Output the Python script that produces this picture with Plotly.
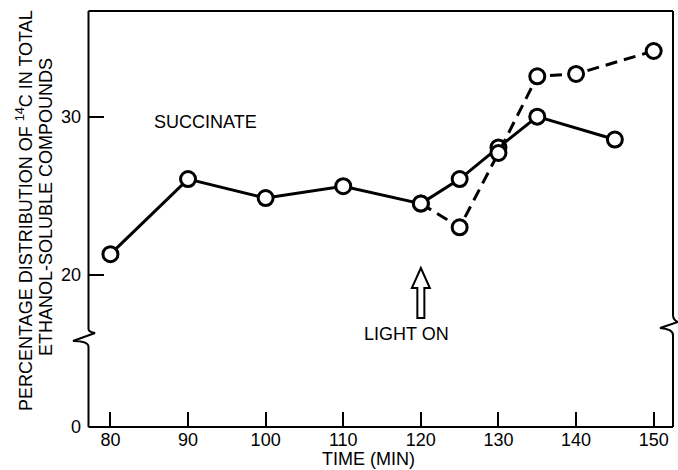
import plotly.graph_objects as go

# ---- data ----
time_solid = [80, 90, 100, 110, 120, 125, 130, 135, 145]
pct_solid = [21.3, 26.05, 24.85, 25.6, 24.5, 26.05, 28.05, 30.0, 28.55]
time_dashed = [120, 125, 130, 135, 140, 150]
pct_dashed = [24.5, 23.0, 27.7, 32.55, 32.7, 34.15]
x_ticks = [80, 90, 100, 110, 120, 130, 140, 150]
y_ticks_upper = [20, 30]
y_ticks_lower = [0]
light_on_time = 120

# ---- geometry ----
W, H = 678, 470
L, R, T, B = 88, 5, 11, 43
PW = W - L - R
PH = H - T - B
X_RANGE = [77.11, 152.49]
BREAK_PAPER = (H - B - 338) / PH


def px(x):
    return (x - L) / PW


def py(y):
    return (H - B - y) / PH


def xpix(v):
    return L + (v - X_RANGE[0]) / (X_RANGE[1] - X_RANGE[0]) * PW


FONT = "Liberation Sans"
FS = 18
fig = go.Figure()

fig.add_trace(go.Scatter(
    x=time_solid, y=pct_solid, mode="lines+markers",
    line=dict(color="black", width=3),
    marker=dict(symbol="circle", size=15, color="white",
                line=dict(color="black", width=3)),
    xaxis="x", yaxis="y", showlegend=False, cliponaxis=False,
))
fig.add_trace(go.Scatter(
    x=time_dashed, y=pct_dashed, mode="lines+markers",
    line=dict(color="black", width=3, dash="12px,7px"),
    marker=dict(symbol="circle", size=15, color="white",
                line=dict(color="black", width=3)),
    xaxis="x", yaxis="y", showlegend=False, cliponaxis=False,
))
# invisible trace so the lower (0) axis segment exists
fig.add_trace(go.Scatter(x=[None], y=[None], xaxis="x", yaxis="y2",
                         showlegend=False, hoverinfo="skip"))

shapes = []
lw = 2
shapes.append(dict(type="line", xref="paper", yref="paper",
                   x0=px(88.5), x1=px(673), y0=py(11), y1=py(11),
                   line=dict(color="black", width=lw)))
shapes.append(dict(type="line", xref="paper", yref="paper",
                   x0=px(88.5), x1=px(673), y0=py(427), y1=py(427),
                   line=dict(color="black", width=lw)))


def path_from(pts):
    s = ""
    for cmd, coords in pts:
        s += cmd + " " + " ".join(
            f"{px(coords[i]):.5f},{py(coords[i+1]):.5f}" for i in range(0, len(coords), 2)) + " "
    return s.strip()


left_path = path_from([
    ("M", (88.5, 11)), ("L", (88.5, 329)), ("Q", (88.5, 332, 95, 333)),
    ("L", (73, 341)), ("Q", (88.5, 341, 88.5, 347)), ("L", (88.5, 427)),
])
right_path = path_from([
    ("M", (673, 11)), ("L", (673, 315)), ("Q", (673, 320, 678, 322)),
    ("L", (660, 328)), ("Q", (673, 329, 673, 335)), ("L", (673, 427)),
])
for p in (left_path, right_path):
    shapes.append(dict(type="path", xref="paper", yref="paper", path=p,
                       line=dict(color="black", width=lw)))

# hollow arrow at light on
ax = xpix(light_on_time)
arrow = path_from([
    ("M", (ax - 3.5, 318)), ("L", (ax - 3.5, 288)), ("L", (ax - 9, 288)),
    ("L", (ax, 268)), ("L", (ax + 9, 288)), ("L", (ax + 3.5, 288)),
    ("L", (ax + 3.5, 318)), ("Z", ()),
])
shapes.append(dict(type="path", xref="paper", yref="paper", path=arrow,
                   line=dict(color="black", width=2), fillcolor="white"))

tf = dict(family=FONT, size=FS, color="black")


def ann(text, x, y, angle=0):
    return dict(text=text, x=px(x), y=py(y), xref="paper", yref="paper",
                xanchor="center", yanchor="middle", textangle=angle,
                showarrow=False, font=tf)


annotations = [
    ann("SUCCINATE", 205, 122),
    ann("LIGHT ON", 406, 334),
    ann("TIME (MIN)", 368, 459),
    ann("PERCENTAGE DISTRIBUTION OF <sup>14</sup>C IN TOTAL", 25, 211, -90),
    ann("ETHANOL-SOLUBLE COMPOUNDS", 46, 207, -90),
]

fig.update_layout(
    template="none",
    width=W, height=H,
    margin=dict(l=L, r=R, t=T, b=B, autoexpand=False),
    paper_bgcolor="white", plot_bgcolor="white",
    shapes=shapes, annotations=annotations,
    xaxis=dict(range=X_RANGE, anchor="y2", tickvals=x_ticks,
               ticks="inside", ticklen=15, tickwidth=2, tickcolor="black",
               showgrid=False, zeroline=False, showline=False,
               automargin=False, tickfont=tf),
    yaxis=dict(domain=[BREAK_PAPER, 1], range=[16.0, 36.68],
               tickvals=y_ticks_upper, ticks="inside", ticklen=16,
               tickwidth=2, tickcolor="black", showgrid=False,
               zeroline=False, showline=False, anchor="x",
               automargin=False, tickfont=tf, ticklabelstandoff=6),
    yaxis2=dict(domain=[0, BREAK_PAPER], range=[0, 1], tickvals=y_ticks_lower,
                ticks="", showgrid=False, zeroline=False, showline=False,
                anchor="x", automargin=False, tickfont=tf,
                ticklabelstandoff=6),
)

fig.write_html("out.html", config={"displayModeBar": False},
               post_script="document.body.style.margin='0';document.body.style.overflow='hidden';")
